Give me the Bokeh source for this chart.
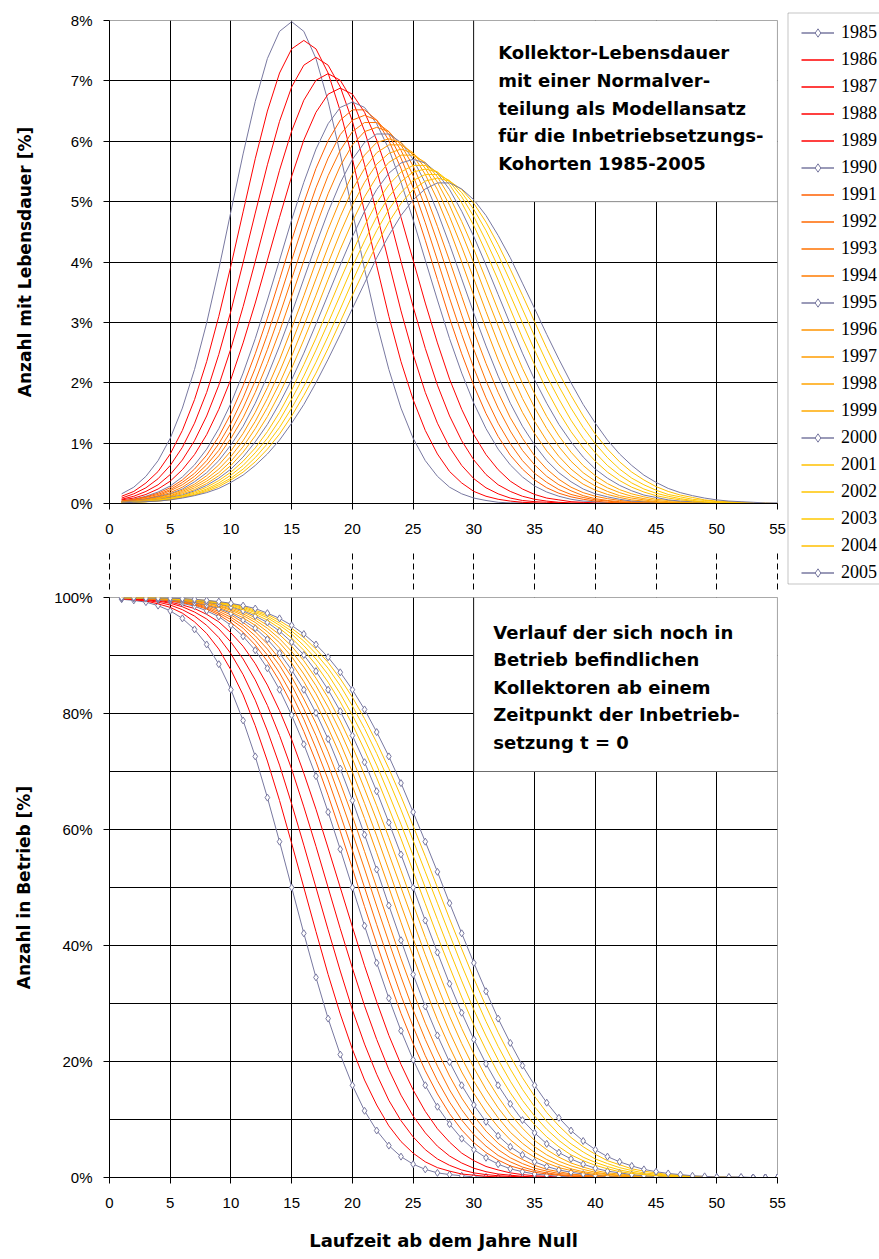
from bokeh.plotting import figure
from bokeh.models import (Range1d, FixedTicker, PrintfTickFormatter, LinearAxis,
                          BoxAnnotation, Label, Legend, LegendItem)
from bokeh.layouts import row, column
from bokeh.embed import file_html
from bokeh.resources import INLINE

# ---------------- data ----------------
years = [1985, 1986, 1987, 1988, 1989, 1990, 1991, 1992, 1993, 1994, 1995,
         1996, 1997, 1998, 1999, 2000, 2001, 2002, 2003, 2004, 2005]
laufzeit = [1, 2, 3, 4, 5, 6, 7, 8, 9, 10, 11, 12, 13, 14, 15, 16, 17, 18, 19, 20,
            21, 22, 23, 24, 25, 26, 27, 28, 29, 30, 31, 32, 33, 34, 35, 36, 37, 38, 39, 40,
            41, 42, 43, 44, 45, 46, 47, 48, 49, 50, 51, 52, 53, 54, 55]
x_ticks = [0, 5, 10, 15, 20, 25, 30, 35, 40, 45, 50, 55]
x_grid = [5, 10, 15, 20, 25, 30, 35, 40, 45, 50]
top_ticks = [0, 1, 2, 3, 4, 5, 6, 7, 8]
top_grid = [1, 2, 3, 4, 5, 6, 7]
bottom_ticks = [0, 20, 40, 60, 80, 100]
bottom_grid = [10, 20, 30, 40, 50, 60, 70, 80, 90]

# Anzahl mit Lebensdauer [%] (upper panel)
pdf_1985 = [0.16, 0.27, 0.45, 0.71, 1.08, 1.58, 2.22, 2.99, 3.88, 4.84,
            5.79, 6.66, 7.37, 7.82, 7.98, 7.82, 7.37, 6.66, 5.79, 4.84,
            3.88, 2.99, 2.22, 1.58, 1.08, 0.71, 0.45, 0.27, 0.16, 0.09,
            0.05, 0.02, 0.01, 0.01, 0, 0, 0, 0, 0, 0,
            0, 0, 0, 0, 0, 0, 0, 0, 0, 0,
            0, 0, 0, 0, 0]
pdf_1986 = [0.12, 0.20, 0.34, 0.53, 0.82, 1.21, 1.72, 2.35, 3.10, 3.94,
            4.83, 5.71, 6.50, 7.13, 7.53, 7.67, 7.53, 7.13, 6.50, 5.71,
            4.83, 3.94, 3.10, 2.35, 1.72, 1.21, 0.82, 0.53, 0.34, 0.20,
            0.12, 0.07, 0.04, 0.02, 0.01, 0, 0, 0, 0, 0,
            0, 0, 0, 0, 0, 0, 0, 0, 0, 0,
            0, 0, 0, 0, 0]
pdf_1987 = [0.09, 0.16, 0.26, 0.41, 0.63, 0.93, 1.33, 1.84, 2.47, 3.19,
            3.99, 4.81, 5.61, 6.33, 6.90, 7.26, 7.39, 7.26, 6.90, 6.33,
            5.61, 4.81, 3.99, 3.19, 2.47, 1.84, 1.33, 0.93, 0.63, 0.41,
            0.26, 0.16, 0.09, 0.05, 0.03, 0.02, 0.01, 0, 0, 0,
            0, 0, 0, 0, 0, 0, 0, 0, 0, 0,
            0, 0, 0, 0, 0]
pdf_1988 = [0.07, 0.12, 0.20, 0.31, 0.48, 0.72, 1.04, 1.45, 1.96, 2.57,
            3.26, 4.01, 4.78, 5.52, 6.17, 6.68, 7.01, 7.12, 7.01, 6.68,
            6.17, 5.52, 4.78, 4.01, 3.26, 2.57, 1.96, 1.45, 1.04, 0.72,
            0.48, 0.31, 0.20, 0.12, 0.07, 0.04, 0.02, 0.01, 0.01, 0,
            0, 0, 0, 0, 0, 0, 0, 0, 0, 0,
            0, 0, 0, 0, 0]
pdf_1989 = [0.06, 0.09, 0.15, 0.24, 0.37, 0.56, 0.81, 1.14, 1.56, 2.06,
            2.66, 3.32, 4.03, 4.74, 5.42, 6.02, 6.48, 6.78, 6.88, 6.78,
            6.48, 6.02, 5.42, 4.74, 4.03, 3.32, 2.66, 2.06, 1.56, 1.14,
            0.81, 0.56, 0.37, 0.24, 0.15, 0.09, 0.06, 0.03, 0.02, 0.01,
            0.01, 0, 0, 0, 0, 0, 0, 0, 0, 0,
            0, 0, 0, 0, 0]
pdf_1990 = [0.04, 0.07, 0.12, 0.19, 0.29, 0.44, 0.64, 0.90, 1.24, 1.66,
            2.16, 2.73, 3.37, 4.03, 4.70, 5.32, 5.87, 6.29, 6.56, 6.65,
            6.56, 6.29, 5.87, 5.32, 4.70, 4.03, 3.37, 2.73, 2.16, 1.66,
            1.24, 0.90, 0.64, 0.44, 0.29, 0.19, 0.12, 0.07, 0.04, 0.03,
            0.01, 0.01, 0, 0, 0, 0, 0, 0, 0, 0,
            0, 0, 0, 0, 0]
pdf_1991 = [0.04, 0.07, 0.11, 0.17, 0.26, 0.39, 0.57, 0.80, 1.11, 1.49,
            1.95, 2.48, 3.07, 3.71, 4.36, 4.98, 5.55, 6.01, 6.35, 6.52,
            6.52, 6.35, 6.01, 5.55, 4.98, 4.36, 3.71, 3.07, 2.48, 1.95,
            1.49, 1.11, 0.80, 0.57, 0.39, 0.26, 0.17, 0.11, 0.07, 0.04,
            0.02, 0.01, 0.01, 0, 0, 0, 0, 0, 0, 0,
            0, 0, 0, 0, 0]
pdf_1992 = [0.04, 0.06, 0.10, 0.15, 0.23, 0.35, 0.50, 0.71, 0.99, 1.33,
            1.75, 2.24, 2.80, 3.40, 4.03, 4.65, 5.23, 5.72, 6.11, 6.35,
            6.43, 6.35, 6.11, 5.72, 5.23, 4.65, 4.03, 3.40, 2.80, 2.24,
            1.75, 1.33, 0.99, 0.71, 0.50, 0.35, 0.23, 0.15, 0.10, 0.06,
            0.04, 0.02, 0.01, 0.01, 0, 0, 0, 0, 0, 0,
            0, 0, 0, 0, 0]
pdf_1993 = [0.03, 0.05, 0.08, 0.13, 0.21, 0.31, 0.45, 0.64, 0.88, 1.20,
            1.58, 2.03, 2.55, 3.12, 3.72, 4.33, 4.91, 5.43, 5.85, 6.16,
            6.31, 6.31, 6.16, 5.85, 5.43, 4.91, 4.33, 3.72, 3.12, 2.55,
            2.03, 1.58, 1.20, 0.88, 0.64, 0.45, 0.31, 0.21, 0.13, 0.08,
            0.05, 0.03, 0.02, 0.01, 0.01, 0, 0, 0, 0, 0,
            0, 0, 0, 0, 0]
pdf_1994 = [0.03, 0.05, 0.08, 0.12, 0.18, 0.27, 0.40, 0.57, 0.79, 1.08,
            1.42, 1.84, 2.32, 2.85, 3.43, 4.02, 4.59, 5.13, 5.59, 5.94,
            6.16, 6.23, 6.16, 5.94, 5.59, 5.13, 4.59, 4.02, 3.43, 2.85,
            2.32, 1.84, 1.42, 1.08, 0.79, 0.57, 0.40, 0.27, 0.18, 0.12,
            0.08, 0.05, 0.03, 0.02, 0.01, 0.01, 0, 0, 0, 0,
            0, 0, 0, 0, 0]
pdf_1995 = [0.03, 0.04, 0.07, 0.11, 0.16, 0.24, 0.36, 0.51, 0.71, 0.97,
            1.28, 1.66, 2.11, 2.61, 3.15, 3.72, 4.29, 4.83, 5.31, 5.70,
            5.98, 6.12, 6.12, 5.98, 5.70, 5.31, 4.83, 4.29, 3.72, 3.15,
            2.61, 2.11, 1.66, 1.28, 0.97, 0.71, 0.51, 0.36, 0.24, 0.16,
            0.11, 0.07, 0.04, 0.03, 0.02, 0.01, 0.01, 0, 0, 0,
            0, 0, 0, 0, 0]
pdf_1996 = [0.02, 0.04, 0.06, 0.10, 0.15, 0.22, 0.32, 0.46, 0.64, 0.87,
            1.16, 1.51, 1.92, 2.38, 2.90, 3.44, 4.00, 4.54, 5.03, 5.45,
            5.77, 5.98, 6.04, 5.98, 5.77, 5.45, 5.03, 4.54, 4.00, 3.44,
            2.90, 2.38, 1.92, 1.51, 1.16, 0.87, 0.64, 0.46, 0.32, 0.22,
            0.15, 0.10, 0.06, 0.04, 0.02, 0.01, 0.01, 0, 0, 0,
            0, 0, 0, 0, 0]
pdf_1997 = [0.02, 0.03, 0.06, 0.09, 0.13, 0.20, 0.29, 0.41, 0.57, 0.78,
            1.04, 1.36, 1.74, 2.18, 2.66, 3.18, 3.72, 4.25, 4.75, 5.20,
            5.55, 5.81, 5.94, 5.94, 5.81, 5.55, 5.20, 4.75, 4.25, 3.72,
            3.18, 2.66, 2.18, 1.74, 1.36, 1.04, 0.78, 0.57, 0.41, 0.29,
            0.20, 0.13, 0.09, 0.06, 0.03, 0.02, 0.01, 0.01, 0, 0,
            0, 0, 0, 0, 0]
pdf_1998 = [0.02, 0.03, 0.05, 0.08, 0.12, 0.18, 0.26, 0.37, 0.51, 0.70,
            0.94, 1.24, 1.59, 1.99, 2.44, 2.94, 3.45, 3.98, 4.48, 4.94,
            5.32, 5.62, 5.80, 5.87, 5.80, 5.62, 5.32, 4.94, 4.48, 3.98,
            3.45, 2.94, 2.44, 1.99, 1.59, 1.24, 0.94, 0.70, 0.51, 0.37,
            0.26, 0.18, 0.12, 0.08, 0.05, 0.03, 0.02, 0.01, 0.01, 0,
            0, 0, 0, 0, 0]
pdf_1999 = [0.02, 0.03, 0.05, 0.07, 0.11, 0.16, 0.23, 0.33, 0.46, 0.63,
            0.85, 1.12, 1.44, 1.82, 2.24, 2.71, 3.20, 3.71, 4.21, 4.67,
            5.08, 5.41, 5.65, 5.77, 5.77, 5.65, 5.41, 5.08, 4.67, 4.21,
            3.71, 3.20, 2.71, 2.24, 1.82, 1.44, 1.12, 0.85, 0.63, 0.46,
            0.33, 0.23, 0.16, 0.11, 0.07, 0.05, 0.03, 0.02, 0.01, 0.01,
            0, 0, 0, 0, 0]
pdf_2000 = [0.02, 0.03, 0.04, 0.06, 0.10, 0.14, 0.21, 0.30, 0.42, 0.57,
            0.77, 1.02, 1.31, 1.66, 2.05, 2.49, 2.97, 3.46, 3.95, 4.42,
            4.84, 5.20, 5.47, 5.64, 5.70, 5.64, 5.47, 5.20, 4.84, 4.42,
            3.95, 3.46, 2.97, 2.49, 2.05, 1.66, 1.31, 1.02, 0.77, 0.57,
            0.42, 0.30, 0.21, 0.14, 0.10, 0.06, 0.04, 0.03, 0.02, 0.01,
            0.01, 0, 0, 0, 0]
pdf_2001 = [0.01, 0.02, 0.04, 0.06, 0.09, 0.13, 0.19, 0.27, 0.38, 0.52,
            0.70, 0.92, 1.19, 1.51, 1.88, 2.30, 2.74, 3.22, 3.70, 4.16,
            4.60, 4.98, 5.28, 5.49, 5.60, 5.60, 5.49, 5.28, 4.98, 4.60,
            4.16, 3.70, 3.22, 2.74, 2.30, 1.88, 1.51, 1.19, 0.92, 0.70,
            0.52, 0.38, 0.27, 0.19, 0.13, 0.09, 0.06, 0.04, 0.02, 0.01,
            0.01, 0.01, 0, 0, 0]
pdf_2002 = [0.01, 0.02, 0.03, 0.05, 0.08, 0.12, 0.17, 0.24, 0.34, 0.47,
            0.63, 0.84, 1.08, 1.38, 1.73, 2.11, 2.54, 2.99, 3.45, 3.92,
            4.35, 4.75, 5.08, 5.33, 5.49, 5.54, 5.49, 5.33, 5.08, 4.75,
            4.35, 3.92, 3.45, 2.99, 2.54, 2.11, 1.73, 1.38, 1.08, 0.84,
            0.63, 0.47, 0.34, 0.24, 0.17, 0.12, 0.08, 0.05, 0.03, 0.02,
            0.01, 0.01, 0, 0, 0]
pdf_2003 = [0.01, 0.02, 0.03, 0.05, 0.07, 0.11, 0.15, 0.22, 0.31, 0.42,
            0.57, 0.76, 0.99, 1.26, 1.58, 1.94, 2.34, 2.77, 3.22, 3.68,
            4.12, 4.52, 4.87, 5.15, 5.35, 5.45, 5.45, 5.35, 5.15, 4.87,
            4.52, 4.12, 3.68, 3.22, 2.77, 2.34, 1.94, 1.58, 1.26, 0.99,
            0.76, 0.57, 0.42, 0.31, 0.22, 0.15, 0.11, 0.07, 0.05, 0.03,
            0.02, 0.01, 0.01, 0, 0]
pdf_2004 = [0.01, 0.02, 0.03, 0.04, 0.06, 0.10, 0.14, 0.20, 0.28, 0.39,
            0.52, 0.69, 0.90, 1.15, 1.45, 1.79, 2.16, 2.57, 3.01, 3.45,
            3.88, 4.29, 4.66, 4.97, 5.20, 5.34, 5.39, 5.34, 5.20, 4.97,
            4.66, 4.29, 3.88, 3.45, 3.01, 2.57, 2.16, 1.79, 1.45, 1.15,
            0.90, 0.69, 0.52, 0.39, 0.28, 0.20, 0.14, 0.10, 0.06, 0.04,
            0.03, 0.02, 0.01, 0.01, 0]
pdf_2005 = [0.01, 0.02, 0.03, 0.04, 0.06, 0.09, 0.13, 0.18, 0.25, 0.35,
            0.47, 0.63, 0.82, 1.05, 1.33, 1.64, 2.00, 2.39, 2.80, 3.23,
            3.65, 4.07, 4.44, 4.77, 5.03, 5.21, 5.31, 5.31, 5.21, 5.03,
            4.77, 4.44, 4.07, 3.65, 3.23, 2.80, 2.39, 2.00, 1.64, 1.33,
            1.05, 0.82, 0.63, 0.47, 0.35, 0.25, 0.18, 0.13, 0.09, 0.06,
            0.04, 0.03, 0.02, 0.01, 0.01]

# Anzahl in Betrieb [%] (lower panel)
surv_1985 = [99.7, 99.5, 99.2, 98.6, 97.7, 96.4, 94.5, 91.9, 88.5, 84.1,
             78.8, 72.6, 65.5, 57.9, 50.0, 42.1, 34.5, 27.4, 21.2, 15.9,
             11.5, 8.1, 5.5, 3.6, 2.3, 1.4, 0.8, 0.5, 0.3, 0.1,
             0.1, 0, 0, 0, 0, 0, 0, 0, 0, 0,
             0, 0, 0, 0, 0, 0, 0, 0, 0, 0,
             0, 0, 0, 0, 0]
surv_1986 = [99.8, 99.6, 99.4, 98.9, 98.3, 97.3, 95.8, 93.8, 91.1, 87.5,
             83.2, 77.9, 71.8, 65.0, 57.6, 50.0, 42.4, 35.0, 28.2, 22.1,
             16.8, 12.5, 8.9, 6.2, 4.2, 2.7, 1.7, 1.1, 0.6, 0.4,
             0.2, 0.1, 0.1, 0, 0, 0, 0, 0, 0, 0,
             0, 0, 0, 0, 0, 0, 0, 0, 0, 0,
             0, 0, 0, 0, 0]
surv_1987 = [99.8, 99.7, 99.5, 99.2, 98.7, 97.9, 96.8, 95.2, 93.1, 90.3,
             86.7, 82.3, 77.0, 71.1, 64.4, 57.3, 50.0, 42.7, 35.6, 28.9,
             23.0, 17.8, 13.3, 9.8, 7.0, 4.8, 3.2, 2.1, 1.3, 0.8,
             0.5, 0.3, 0.2, 0.1, 0, 0, 0, 0, 0, 0,
             0, 0, 0, 0, 0, 0, 0, 0, 0, 0,
             0, 0, 0, 0, 0]
surv_1988 = [99.9, 99.8, 99.6, 99.4, 99.0, 98.4, 97.5, 96.3, 94.6, 92.3,
             89.4, 85.8, 81.4, 76.2, 70.4, 63.9, 57.1, 50.0, 42.9, 36.1,
             29.6, 23.8, 18.6, 14.2, 10.6, 7.7, 5.4, 3.7, 2.5, 1.6,
             1.0, 0.6, 0.4, 0.2, 0.1, 0.1, 0, 0, 0, 0,
             0, 0, 0, 0, 0, 0, 0, 0, 0, 0,
             0, 0, 0, 0, 0]
surv_1989 = [99.9, 99.8, 99.7, 99.5, 99.2, 98.7, 98.1, 97.1, 95.8, 93.9,
             91.6, 88.6, 84.9, 80.5, 75.5, 69.7, 63.5, 56.8, 50.0, 43.2,
             36.5, 30.3, 24.5, 19.5, 15.1, 11.4, 8.4, 6.1, 4.2, 2.9,
             1.9, 1.3, 0.8, 0.5, 0.3, 0.2, 0.1, 0.1, 0, 0,
             0, 0, 0, 0, 0, 0, 0, 0, 0, 0,
             0, 0, 0, 0, 0]
surv_1990 = [99.9, 99.9, 99.8, 99.6, 99.4, 99.0, 98.5, 97.7, 96.7, 95.2,
             93.3, 90.9, 87.8, 84.1, 79.7, 74.7, 69.2, 63.0, 56.6, 50.0,
             43.4, 37.0, 30.9, 25.3, 20.3, 15.9, 12.2, 9.2, 6.7, 4.8,
             3.4, 2.3, 1.5, 1.0, 0.6, 0.4, 0.2, 0.1, 0.1, 0,
             0, 0, 0, 0, 0, 0, 0, 0, 0, 0,
             0, 0, 0, 0, 0]
surv_1991 = [99.9, 99.9, 99.8, 99.7, 99.4, 99.1, 98.7, 98.0, 97.0, 95.7,
             94.0, 91.8, 89.0, 85.6, 81.6, 76.9, 71.7, 65.9, 59.7, 53.3,
             46.7, 40.3, 34.1, 28.3, 23.1, 18.4, 14.4, 11.0, 8.2, 6.0,
             4.3, 3.0, 2.0, 1.4, 0.9, 0.6, 0.4, 0.2, 0.1, 0.1,
             0, 0, 0, 0, 0, 0, 0, 0, 0, 0,
             0, 0, 0, 0, 0]
surv_1992 = [99.9, 99.9, 99.8, 99.7, 99.5, 99.2, 98.8, 98.2, 97.3, 96.2,
             94.7, 92.6, 90.1, 87.0, 83.3, 79.0, 74.0, 68.6, 62.6, 56.4,
             50.0, 43.6, 37.4, 31.4, 26.0, 21.0, 16.7, 13.0, 9.9, 7.4,
             5.4, 3.8, 2.7, 1.8, 1.2, 0.8, 0.5, 0.3, 0.2, 0.1,
             0.1, 0, 0, 0, 0, 0, 0, 0, 0, 0,
             0, 0, 0, 0, 0]
surv_1993 = [99.9, 99.9, 99.8, 99.7, 99.6, 99.3, 98.9, 98.4, 97.6, 96.6,
             95.2, 93.4, 91.1, 88.3, 84.9, 80.8, 76.2, 71.1, 65.4, 59.4,
             53.2, 46.8, 40.6, 34.6, 28.9, 23.8, 19.2, 15.1, 11.7, 8.9,
             6.6, 4.8, 3.4, 2.4, 1.6, 1.1, 0.7, 0.5, 0.3, 0.2,
             0.1, 0.1, 0, 0, 0, 0, 0, 0, 0, 0,
             0, 0, 0, 0, 0]
surv_1994 = [99.9, 99.9, 99.8, 99.7, 99.6, 99.4, 99.0, 98.6, 97.9, 97.0,
             95.7, 94.1, 92.0, 89.4, 86.3, 82.5, 78.3, 73.4, 68.0, 62.3,
             56.2, 50.0, 43.8, 37.7, 32.0, 26.6, 21.8, 17.5, 13.7, 10.6,
             8.0, 5.9, 4.3, 3.1, 2.1, 1.4, 1.0, 0.6, 0.4, 0.3,
             0.2, 0.1, 0.1, 0, 0, 0, 0, 0, 0, 0,
             0, 0, 0, 0, 0]
surv_1995 = [99.9, 99.9, 99.9, 99.8, 99.6, 99.4, 99.1, 98.7, 98.1, 97.3,
             96.1, 94.7, 92.8, 90.4, 87.5, 84.1, 80.1, 75.6, 70.5, 65.0,
             59.1, 53.1, 46.9, 40.9, 35.0, 29.5, 24.5, 19.9, 15.9, 12.5,
             9.6, 7.2, 5.3, 3.9, 2.7, 1.9, 1.3, 0.9, 0.6, 0.4,
             0.2, 0.1, 0.1, 0, 0, 0, 0, 0, 0, 0,
             0, 0, 0, 0, 0]
surv_1996 = [100.0, 99.9, 99.9, 99.8, 99.7, 99.5, 99.2, 98.8, 98.3, 97.5,
             96.5, 95.2, 93.5, 91.3, 88.7, 85.5, 81.8, 77.5, 72.8, 67.5,
             61.9, 56.0, 50.0, 44.0, 38.1, 32.5, 27.2, 22.5, 18.2, 14.5,
             11.3, 8.7, 6.5, 4.8, 3.5, 2.5, 1.7, 1.2, 0.8, 0.5,
             0.3, 0.2, 0.1, 0.1, 0, 0, 0, 0, 0, 0,
             0, 0, 0, 0, 0]
surv_1997 = [100.0, 99.9, 99.9, 99.8, 99.7, 99.5, 99.3, 99.0, 98.5, 97.8,
             96.9, 95.7, 94.1, 92.2, 89.8, 86.8, 83.4, 79.4, 74.9, 69.9,
             64.5, 58.9, 53.0, 47.0, 41.2, 35.5, 30.1, 25.1, 20.6, 16.6,
             13.2, 10.3, 7.8, 5.9, 4.3, 3.1, 2.2, 1.5, 1.0, 0.7,
             0.5, 0.3, 0.2, 0.1, 0.1, 0, 0, 0, 0, 0,
             0, 0, 0, 0, 0]
surv_1998 = [100.0, 99.9, 99.9, 99.8, 99.7, 99.6, 99.4, 99.1, 98.6, 98.0,
             97.2, 96.1, 94.7, 92.9, 90.7, 88.0, 84.8, 81.1, 76.9, 72.2,
             67.0, 61.6, 55.8, 50.0, 44.2, 38.4, 33.0, 27.8, 23.1, 18.9,
             15.2, 12.0, 9.3, 7.1, 5.3, 3.9, 2.8, 2.0, 1.4, 0.9,
             0.6, 0.4, 0.3, 0.2, 0.1, 0.1, 0, 0, 0, 0,
             0, 0, 0, 0, 0]
surv_1999 = [100.0, 99.9, 99.9, 99.8, 99.8, 99.6, 99.4, 99.2, 98.8, 98.2,
             97.5, 96.5, 95.2, 93.6, 91.6, 89.1, 86.1, 82.7, 78.7, 74.3,
             69.4, 64.1, 58.6, 52.9, 47.1, 41.4, 35.9, 30.6, 25.7, 21.3,
             17.3, 13.9, 10.9, 8.5, 6.4, 4.8, 3.5, 2.5, 1.8, 1.2,
             0.8, 0.6, 0.4, 0.2, 0.2, 0.1, 0.1, 0, 0, 0,
             0, 0, 0, 0, 0]
surv_2000 = [100.0, 99.9, 99.9, 99.9, 99.8, 99.7, 99.5, 99.2, 98.9, 98.4,
             97.7, 96.8, 95.7, 94.2, 92.3, 90.1, 87.3, 84.1, 80.4, 76.2,
             71.6, 66.6, 61.2, 55.7, 50.0, 44.3, 38.8, 33.4, 28.4, 23.8,
             19.6, 15.9, 12.7, 9.9, 7.7, 5.8, 4.3, 3.2, 2.3, 1.6,
             1.1, 0.8, 0.5, 0.3, 0.2, 0.1, 0.1, 0.1, 0, 0,
             0, 0, 0, 0, 0]
surv_2001 = [100.0, 99.9, 99.9, 99.9, 99.8, 99.7, 99.5, 99.3, 99.0, 98.5,
             97.9, 97.1, 96.1, 94.7, 93.0, 90.9, 88.4, 85.4, 82.0, 78.1,
             73.7, 68.9, 63.7, 58.4, 52.8, 47.2, 41.6, 36.3, 31.1, 26.3,
             22.0, 18.0, 14.6, 11.6, 9.1, 7.0, 5.3, 3.9, 2.9, 2.1,
             1.5, 1.0, 0.7, 0.5, 0.3, 0.2, 0.1, 0.1, 0, 0,
             0, 0, 0, 0, 0]
surv_2002 = [100.0, 100.0, 99.9, 99.9, 99.8, 99.7, 99.6, 99.4, 99.1, 98.7,
             98.1, 97.4, 96.5, 95.2, 93.7, 91.7, 89.4, 86.7, 83.4, 79.7,
             75.6, 71.1, 66.1, 60.9, 55.5, 50.0, 44.5, 39.1, 33.9, 28.9,
             24.4, 20.3, 16.6, 13.3, 10.6, 8.3, 6.4, 4.8, 3.5, 2.6,
             1.9, 1.3, 0.9, 0.6, 0.4, 0.3, 0.2, 0.1, 0.1, 0,
             0, 0, 0, 0, 0]
surv_2003 = [100.0, 100.0, 99.9, 99.9, 99.8, 99.7, 99.6, 99.4, 99.2, 98.8,
             98.3, 97.6, 96.8, 95.6, 94.2, 92.5, 90.3, 87.8, 84.8, 81.3,
             77.4, 73.1, 68.4, 63.4, 58.1, 52.7, 47.3, 41.9, 36.6, 31.6,
             26.9, 22.6, 18.7, 15.2, 12.2, 9.7, 7.5, 5.8, 4.4, 3.2,
             2.4, 1.7, 1.2, 0.8, 0.6, 0.4, 0.3, 0.2, 0.1, 0.1,
             0, 0, 0, 0, 0]
surv_2004 = [100.0, 100.0, 99.9, 99.9, 99.8, 99.8, 99.6, 99.5, 99.2, 98.9,
             98.5, 97.8, 97.1, 96.0, 94.7, 93.1, 91.1, 88.8, 86.0, 82.8,
             79.1, 75.0, 70.5, 65.7, 60.6, 55.4, 50.0, 44.6, 39.4, 34.3,
             29.5, 25.0, 20.9, 17.2, 14.0, 11.2, 8.9, 6.9, 5.3, 4.0,
             2.9, 2.2, 1.5, 1.1, 0.8, 0.5, 0.4, 0.2, 0.2, 0.1,
             0.1, 0, 0, 0, 0]
surv_2005 = [100.0, 100.0, 99.9, 99.9, 99.9, 99.8, 99.7, 99.5, 99.3, 99.0,
             98.6, 98.1, 97.3, 96.4, 95.2, 93.7, 91.9, 89.7, 87.1, 84.1,
             80.7, 76.8, 72.6, 68.0, 63.0, 57.9, 52.7, 47.3, 42.1, 37.0,
             32.1, 27.4, 23.2, 19.3, 15.9, 12.9, 10.3, 8.1, 6.3, 4.8,
             3.6, 2.7, 2.0, 1.4, 1.0, 0.7, 0.5, 0.3, 0.2, 0.1,
             0.1, 0.1, 0, 0, 0]

pdf_series = [pdf_1985, pdf_1986, pdf_1987, pdf_1988, pdf_1989, pdf_1990, pdf_1991,
              pdf_1992, pdf_1993, pdf_1994, pdf_1995, pdf_1996, pdf_1997, pdf_1998,
              pdf_1999, pdf_2000, pdf_2001, pdf_2002, pdf_2003, pdf_2004, pdf_2005]
surv_series = [surv_1985, surv_1986, surv_1987, surv_1988, surv_1989, surv_1990, surv_1991,
               surv_1992, surv_1993, surv_1994, surv_1995, surv_1996, surv_1997, surv_1998,
               surv_1999, surv_2000, surv_2001, surv_2002, surv_2003, surv_2004, surv_2005]

# ---------------- styles ----------------
GRAY = "#7878A0"
colors = [GRAY, "#FF0000", "#FF0000", "#FF0000", "#FF0000",
          GRAY, "#FF5F00", "#FF6900", "#FF7200", "#FF7B00",
          GRAY, "#FF9500", "#FF9C00", "#FFA300", "#FFAA00",
          GRAY, "#FFC000", "#FFC400", "#FFC800", "#FFBF00",
          GRAY]
with_markers = [True, False, False, False, False,
                True, False, False, False, False,
                True, False, False, False, False,
                True, False, False, False, False,
                True]

TICK_FONT = "Liberation Sans"
BOLD_FONT = "DejaVu Sans"
LEGEND_FONT = "Liberation Serif"


def style_axis(ax, standoff):
    ax.axis_line_color = "black"
    ax.axis_line_width = 1
    ax.major_tick_line_color = "black"
    ax.major_tick_out = 6
    ax.major_tick_in = 0
    ax.minor_tick_line_color = None
    ax.major_label_text_font = TICK_FONT
    ax.major_label_text_font_size = "15px"
    ax.major_label_text_color = "black"
    ax.major_label_standoff = standoff


def make_fig(height, y_end, border_top, border_bottom):
    p = figure(width=786, height=height,
               x_range=Range1d(0, 55), y_range=Range1d(0, y_end),
               output_backend="svg", toolbar_location=None,
               min_border_left=109, min_border_right=9,
               min_border_top=border_top, min_border_bottom=border_bottom,
               background_fill_color="white", border_fill_color="white")
    p.outline_line_color = "#A6A6A6"
    p.outline_line_width = 1
    p.xaxis.ticker = FixedTicker(ticks=x_ticks)
    p.xgrid.ticker = FixedTicker(ticks=x_grid)
    p.grid.grid_line_color = "black"
    p.grid.grid_line_width = 1
    style_axis(p.xaxis[0], 14)
    style_axis(p.yaxis[0], 11)
    p.yaxis.formatter = PrintfTickFormatter(format="%d%%")
    p.yaxis.axis_label_text_font = BOLD_FONT
    p.yaxis.axis_label_text_font_style = "bold"
    p.yaxis.axis_label_text_font_size = "17px"
    p.yaxis.axis_label_text_color = "black"
    return p


# ---------------- upper panel ----------------
top = make_fig(550, 8, 20, 47)
top.yaxis.ticker = FixedTicker(ticks=top_ticks)
top.ygrid.ticker = FixedTicker(ticks=top_grid)
top.yaxis.axis_label = "Anzahl mit Lebensdauer [%]"
top.yaxis.axis_label_standoff = 33

for i in range(len(years)):
    top.line(laufzeit, pdf_series[i], line_color=colors[i], line_width=1)

top.add_layout(BoxAnnotation(left=30, right=55, bottom=5, top=8,
                             fill_color="white", fill_alpha=1,
                             line_color="#404040", line_width=1.2))
top_lines = ["Kollektor-Lebensdauer", "mit einer Normalver-", "teilung als Modellansatz",
             "für die Inbetriebsetzungs-", "Kohorten 1985-2005"]
for i, t in enumerate(top_lines):
    top.add_layout(Label(x=32.0, y=7.47 - i * 0.46, text=t,
                         text_font=BOLD_FONT, text_font_style="bold",
                         text_font_size="18px", text_color="black",
                         text_baseline="middle", text_align="left"))

# ---------------- lower panel ----------------
bottom = make_fig(704, 100, 47, 77)
bottom.yaxis.ticker = FixedTicker(ticks=bottom_ticks)
bottom.ygrid.ticker = FixedTicker(ticks=bottom_grid)
bottom.yaxis.axis_label = "Anzahl in Betrieb [%]"
bottom.yaxis.axis_label_standoff = 17
bottom.xaxis.axis_label = "Laufzeit ab dem Jahre Null"
bottom.xaxis.axis_label_text_font = BOLD_FONT
bottom.xaxis.axis_label_text_font_style = "bold"
bottom.xaxis.axis_label_text_font_size = "18px"
bottom.xaxis.axis_label_text_color = "black"
bottom.xaxis.axis_label_standoff = 19

connector = LinearAxis(ticker=FixedTicker(ticks=x_ticks), axis_line_color=None,
                       major_tick_line_color="black", major_tick_line_dash="6 4",
                       major_tick_out=44, major_tick_in=-7,
                       minor_tick_line_color=None,
                       major_label_text_color=None, major_label_text_font_size="1px",
                       major_label_standoff=0)
bottom.add_layout(connector, "above")

for i in range(len(years)):
    bottom.line(laufzeit, surv_series[i], line_color=colors[i], line_width=1)
    if with_markers[i]:
        bottom.scatter(laufzeit, surv_series[i], marker="diamond", size=7,
                       fill_color="white", line_color=colors[i], line_width=1)

bottom.add_layout(BoxAnnotation(left=30, right=55, bottom=70, top=100,
                                fill_color="white", fill_alpha=1,
                                line_color="#404040", line_width=1.2))
bottom_lines = ["Verlauf der sich noch in", "Betrieb befindlichen", "Kollektoren ab einem",
                "Zeitpunkt der Inbetrieb-", "setzung t = 0"]
for i, t in enumerate(bottom_lines):
    bottom.add_layout(Label(x=31.6, y=94.0 - i * 4.75, text=t,
                            text_font=BOLD_FONT, text_font_style="bold",
                            text_font_size="18px", text_color="black",
                            text_baseline="middle", text_align="left"))

# ---------------- legend (series drawn out of view, legend shows their styles) ----------------
leg = figure(width=93, height=588, x_range=Range1d(200, 293), y_range=Range1d(200, 788),
             output_backend="svg", toolbar_location=None,
             x_axis_type=None, y_axis_type=None, min_border=0,
             background_fill_color="white", border_fill_color="white")
leg.outline_line_color = None
leg.add_layout(BoxAnnotation(left=201.5, right=900, bottom=204.5, top=775.5,
                             fill_alpha=0, line_color="#404040", line_width=1))
items = []
for i, yr in enumerate(years):
    rs = [leg.line(laufzeit, surv_series[i], line_color=colors[i], line_width=1.4)]
    if with_markers[i]:
        rs.append(leg.scatter(laufzeit, surv_series[i], marker="diamond", size=7,
                              fill_color="white", line_color=colors[i], line_width=1))
    items.append(LegendItem(label=str(yr), renderers=rs))
legend = Legend(items=items, location=(15, 5.5), padding=0, margin=0, spacing=6,
                glyph_width=33, glyph_height=21, label_height=21, label_standoff=7,
                label_text_font=LEGEND_FONT, label_text_font_size="18px",
                label_text_color="black",
                border_line_color=None, background_fill_alpha=0)
leg.add_layout(legend)

layout = row(column(top, bottom), leg)
with open("out.html", "w", encoding="utf-8") as f:
    f.write(file_html(layout, INLINE, "Kollektor-Lebensdauer"))
